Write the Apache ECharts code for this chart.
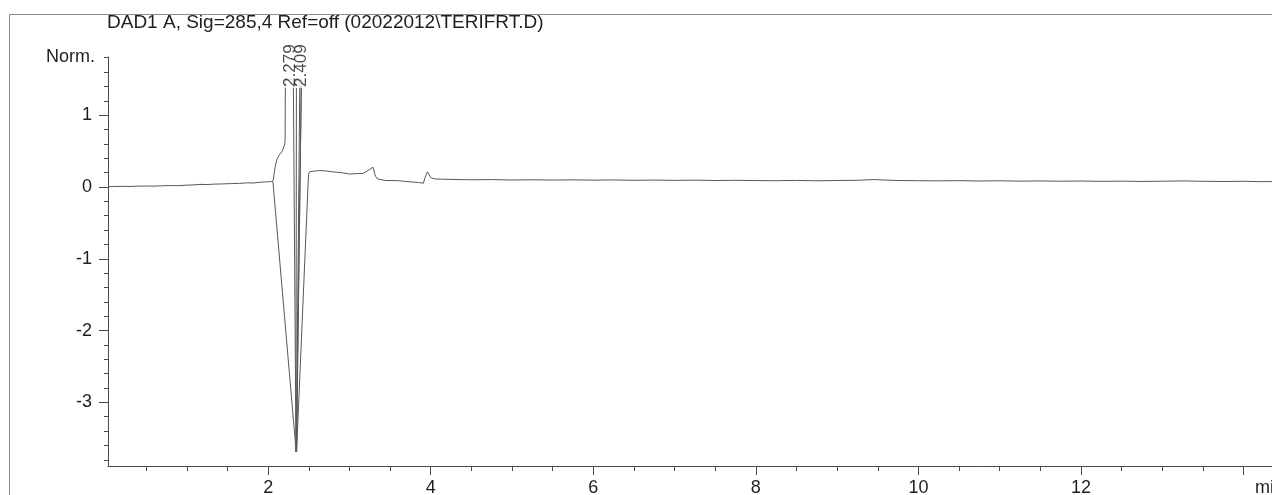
<!DOCTYPE html>
<html>
<head>
<meta charset="utf-8">
<script src="https://cdn.jsdelivr.net/npm/echarts@6/dist/echarts.min.js"></script>
<style>
  html, body { margin: 0; padding: 0; background: #fff; }
  #chart { width: 1272px; height: 495px; }
</style>
</head>
<body>
<div id="chart"></div>
<script>
// Signal header and axis texts
const titleText = 'DAD1 A, Sig=285,4 Ref=off (02022012\\TERIFRT.D)';
const yAxisName = 'Norm.';
const xUnitLabel = 'min';

// Tick positions (minutes / normalised response)
const xMajorTicks = [2, 4, 6, 8, 10, 12, 14];
const xMinorTicks = [0.5, 1, 1.5, 2, 2.5, 3, 3.5, 4, 4.5, 5, 5.5, 6, 6.5, 7, 7.5, 8, 8.5, 9, 9.5, 10, 10.5, 11, 11.5, 12, 12.5, 13, 13.5, 14];
const yMajorTicks = [-3, -2, -1, 0, 1];
const yMinorTicks = [-3.8, -3.6, -3.4, -3.2, -3, -2.8, -2.6, -2.4, -2.2, -2, -1.8, -1.6, -1.4, -1.2, -1, -0.8, -0.6, -0.4, -0.2, 0, 0.2, 0.4, 0.6, 0.8, 1, 1.2, 1.4, 1.6, 1.8];

// Retention times of the integrated peaks
const peakTimes = [2.279, 2.409];
const peakLabelLevel = 1.38;

// Detector trace [time (min), response]; excursions past 1.5 are off-scale
const trace = [
  [0.03, 0.004], [0.1, 0.006], [0.2, 0.009], [0.3, 0.007], [0.4, 0.012], [0.5, 0.013],
  [0.6, 0.012], [0.7, 0.017], [0.8, 0.02], [0.9, 0.018], [1.0, 0.025], [1.1, 0.03],
  [1.16, 0.036], [1.25, 0.034], [1.35, 0.04], [1.45, 0.043], [1.55, 0.047], [1.65, 0.05],
  [1.75, 0.058], [1.82, 0.055], [1.9, 0.066], [1.96, 0.07], [2.0, 0.072], [2.04, 0.075],
  [2.058, 0.085], [2.065, 0.1], [2.074, 0.19], [2.086, 0.28], [2.107, 0.38], [2.139, 0.45],
  [2.168, 0.49], [2.188, 0.54], [2.205, 0.6], [2.209, 0.65], [2.212, 1.5],
  [2.279, 1.5], [2.31, 1.5], [2.343, -3.69], [2.348, 1.5], [2.39, 1.5], [2.347, -3.69],
  [2.409, 1.5], [2.43, 1.5], [2.35, -3.69], [2.49, 0.0], [2.497, 0.17], [2.51, 0.212],
  [2.56, 0.22], [2.62, 0.228], [2.7, 0.225], [2.8, 0.21], [2.9, 0.2], [3.0, 0.18],
  [3.08, 0.185], [3.17, 0.19], [3.23, 0.23], [3.29, 0.275], [3.32, 0.15], [3.35, 0.11],
  [3.45, 0.09], [3.6, 0.088], [3.7, 0.076], [3.85, 0.062], [3.91, 0.052], [3.93, 0.13],
  [3.96, 0.21], [4.0, 0.13], [4.05, 0.112], [4.15, 0.108], [4.3, 0.104], [4.5, 0.1],
  [4.75, 0.103], [5.0, 0.097], [5.25, 0.1], [5.5, 0.096], [5.75, 0.099], [6.0, 0.095],
  [6.25, 0.098], [6.5, 0.093], [6.75, 0.096], [7.0, 0.092], [7.25, 0.095], [7.5, 0.09],
  [7.75, 0.093], [8.0, 0.089], [8.25, 0.087], [8.5, 0.091], [8.75, 0.086], [9.0, 0.09],
  [9.25, 0.093], [9.45, 0.103], [9.6, 0.096], [9.75, 0.09], [10.0, 0.087], [10.25, 0.085],
  [10.5, 0.088], [10.75, 0.083], [11.0, 0.086], [11.25, 0.081], [11.5, 0.084], [11.75, 0.08],
  [12.0, 0.083], [12.25, 0.078], [12.5, 0.081], [12.75, 0.077], [13.0, 0.08], [13.25, 0.084],
  [13.5, 0.079], [13.75, 0.076], [14.0, 0.079], [14.2, 0.074], [14.35, 0.075]
];

// Negative sweep drawn from the front of the solvent disturbance
const sweep = [[2.058, 0.085], [2.345, -3.69]];

const ink = '#1e1e1e';
const axisInk = '#4a4a4a';
const traceInk = '#585858';
const font = 'Liberation Sans, Arial, sans-serif';

const chart = echarts.init(document.getElementById('chart'), null, { renderer: 'canvas' });

chart.setOption({
  animation: false,
  backgroundColor: '#ffffff',
  title: {
    text: titleText,
    left: 107, top: 13, padding: 0,
    textStyle: { fontFamily: font, fontSize: 19, fontWeight: 'normal', color: ink }
  },
  graphic: [{
    type: 'rect', left: 7, top: 12, silent: true,
    shape: { width: 1300, height: 520 },
    style: { fill: 'none', stroke: '#8c8c8c', lineWidth: 1 }
  }],
  grid: { left: 108, top: 57, right: 0, bottom: 29, containLabel: false, outerBoundsMode: 'none' },
  xAxis: [{
    type: 'value', min: 0.03, max: 14.35, position: 'bottom',
    axisLine: { show: true, onZero: false, lineStyle: { color: axisInk, width: 1 } },
    axisTick: { show: true, customValues: xMajorTicks, length: 9, lineStyle: { color: axisInk } },
    axisLabel: {
      customValues: xMajorTicks, margin: 13, color: ink, fontFamily: font, fontSize: 18,
      formatter: v => (v === 14 ? '{u|' + xUnitLabel + '}' : String(v)),
      rich: { u: { fontFamily: font, fontSize: 18, color: ink, padding: [0, 0, 0, 52] } }
    },
    splitLine: { show: false }
  }, {
    type: 'value', min: 0.03, max: 14.35, position: 'bottom', offset: 0,
    axisLine: { show: false, onZero: false },
    axisTick: { show: true, customValues: xMinorTicks, length: 5, lineStyle: { color: axisInk } },
    axisLabel: { show: false },
    splitLine: { show: false }
  }],
  yAxis: [{
    type: 'value', min: -3.886, max: 1.81, position: 'left',
    name: yAxisName, nameLocation: 'end', nameGap: 0,
    nameTextStyle: { fontFamily: font, fontSize: 18, color: ink, align: 'right', verticalAlign: 'middle', padding: [0, 13, 0, 0] },
    axisLine: { show: true, onZero: false, lineStyle: { color: axisInk, width: 1 } },
    axisTick: { show: true, customValues: yMajorTicks, length: 9, lineStyle: { color: axisInk } },
    axisLabel: { customValues: yMajorTicks, margin: 16, color: ink, fontFamily: font, fontSize: 18 },
    splitLine: { show: false }
  }, {
    type: 'value', min: -3.886, max: 1.81, position: 'left', offset: 0,
    axisLine: { show: false, onZero: false },
    axisTick: { show: true, customValues: yMinorTicks, length: 4, lineStyle: { color: axisInk } },
    axisLabel: { show: false },
    splitLine: { show: false }
  }],
  series: [{
    type: 'line', data: trace, showSymbol: false, clip: true, z: 2,
    lineStyle: { color: traceInk, width: 1 }
  }, {
    type: 'line', data: sweep, showSymbol: false, clip: true, z: 2,
    lineStyle: { color: traceInk, width: 1 }
  }, {
    type: 'scatter', z: 5, symbolSize: 0,
    data: peakTimes.map(t => [t, peakLabelLevel]),
    label: {
      show: true, position: 'top', distance: 0, rotate: 90,
      align: 'left', verticalAlign: 'middle',
      formatter: p => p.value[0].toFixed(3),
      fontFamily: font, fontSize: 17, color: ink,
      backgroundColor: '#ffffff', padding: [0, 1], lineHeight: 13
    }
  }]
});
</script>
</body>
</html>
